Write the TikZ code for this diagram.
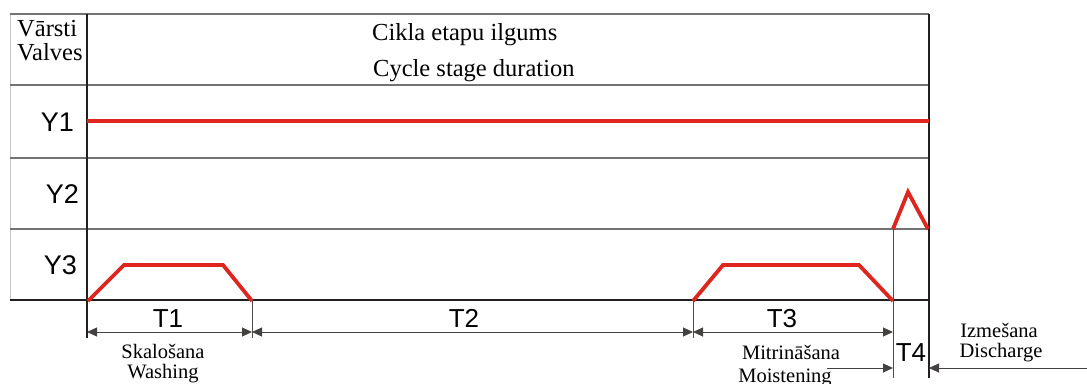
\documentclass[tikz,border=0pt]{standalone}
\usepackage{fontspec}
\setmainfont{Liberation Serif}
\newfontfamily\arialfont{Liberation Sans}
\usetikzlibrary{arrows.meta}
\definecolor{gridgray}{RGB}{115,115,115}
\definecolor{inkblack}{RGB}{35,31,32}
\definecolor{sigred}{RGB}{222,38,30}
\begin{document}
\begin{tikzpicture}[x=1pt,y=-1pt,
  rowline/.style={draw=gridgray,line width=1.5pt},
  frameline/.style={draw=inkblack,line width=1.3pt},
  extline/.style={draw=inkblack!80,line width=0.9pt},
  signal/.style={draw=sigred,line width=3.8pt,line join=miter},
  dimline/.style={draw=inkblack!85,line width=0.9pt,
    arrows={Triangle[length=10pt,width=9pt]-Triangle[length=10pt,width=9pt]}},
  dimin/.style={draw=inkblack!85,line width=0.9pt,
    -{Triangle[length=10pt,width=9pt]}},
  head/.style={font=\fontsize{24.5}{26}\selectfont,inner sep=0pt,anchor=base west},
  vlabel/.style={font=\arialfont\fontsize{27}{29}\selectfont,inner sep=0pt,anchor=base east},
  tlabel/.style={font=\arialfont\fontsize{26}{28}\selectfont,inner sep=0pt,anchor=base},
  stage/.style={font=\fontsize{20.5}{22}\selectfont,inner sep=0pt,anchor=base}
]
\path[use as bounding box] (0,0) rectangle (1087,383);

% table rows
\draw[draw=gray!45,line width=1pt] (10,14) -- (10,300);
\draw[rowline] (10,14) -- (929,14);
\draw[rowline] (10,85) -- (929,85);
\draw[rowline] (10,158) -- (929,158);
\draw[rowline] (10,229) -- (929,229);
\draw[frameline] (10,300) -- (929,300);

% column divider and right border (extended as dimension marks)
\draw[frameline] (87,14) -- (87,338);
\draw[frameline] (929,14) -- (929,378);

% header
\node[head] (h1) at (17,36) {Vārsti};
\node[head] (h2) at (17,60) {Valves};
\node[head] (h3) at (372,40) {Cikla etapu ilgums};
\node[head] (h4) at (373,76) {Cycle stage duration};

% valve labels
\node[vlabel] (y1) at (74,131) {Y1};
\node[vlabel] (y2) at (79,203) {Y2};
\node[vlabel] (y3) at (77,274) {Y3};

% valve signals
\draw[signal] (87,121) -- (929,121);
\draw[signal] (893,229) -- (908,192) -- (928,229);
\draw[signal] (88,301) -- (124,265) -- (223,265) -- (252,301);
\draw[signal] (693,301) -- (723,265) -- (859,265) -- (893,301);

% extension lines of the stages
\draw[extline] (252,300) -- (252,338);
\draw[extline] (693,300) -- (693,338);
\draw[extline] (893,229) -- (893,378);

% stage boundaries on the dimension line
\coordinate (b0) at (87,332);
\coordinate (b1) at (252,332);
\coordinate (b2) at (693,332);
\coordinate (b3) at (893,332);
\draw[dimline] (b0) -- (b1);
\draw[dimline] (b1) -- (b2);
\draw[dimline] (b2) -- (b3);

% T4 marked from outside
\coordinate (c0) at (827,368);
\coordinate (c1) at (893,368);
\coordinate (c2) at (929,368);
\coordinate (c3) at (1087,368);
\draw[dimin] (c0) -- (c1);
\draw[dimin] (c3) -- (c2);

% stage names
\node[tlabel] (t1) at (168,327) {T1};
\node[tlabel] (t2) at (464,327) {T2};
\node[tlabel] (t3) at (782,327) {T3};
\node[tlabel] (t4) at (911,361) {T4};

\node[stage] (s1) at (163,358) {Skalošana};
\node[stage] (s2) at (163,378) {Washing};
\node[stage] (s3) at (791,359) {Mitrināšana};
\node[stage] (s4) at (785,382) {Moistening};
\node[stage] (s5) at (999,337) {Izmešana};
\node[stage] (s6) at (1001,357) {Discharge};
\end{tikzpicture}
\end{document}
